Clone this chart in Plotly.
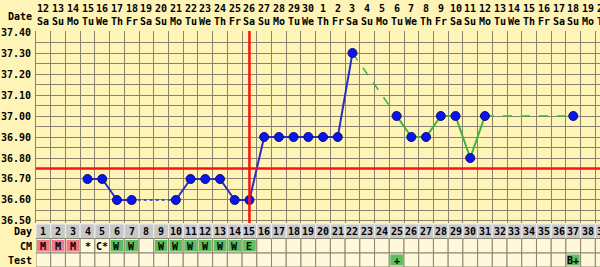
import plotly.graph_objects as go

# ---------------- data ----------------
cycle_days = list(range(1, 40))
dates = list(range(12, 31)) + list(range(1, 21))
weekday_cycle = ["Sa", "Su", "Mo", "Tu", "We", "Th", "Fr"]
weekdays = [weekday_cycle[i % 7] for i in range(len(cycle_days))]

temp_days = [4, 5, 6, 7, 10, 11, 12, 13, 14, 15, 16, 17, 18, 19, 20, 21, 22,
             25, 26, 27, 28, 29, 30, 31, 37]
temps = [36.70, 36.70, 36.60, 36.60, 36.60, 36.70, 36.70, 36.70, 36.60, 36.60,
         36.90, 36.90, 36.90, 36.90, 36.90, 36.90, 37.30,
         37.00, 36.90, 36.90, 37.00, 37.00, 36.80, 37.00, 37.00]

cm_codes = ["M", "M", "M", "*", "C*", "W", "W", "", "W", "W", "W", "W", "W", "W", "E"] + [""] * 24
test_codes = [""] * 24 + ["+"] + [""] * 11 + ["B+"] + [""] * 2

coverline = 36.75
ovulation_day = 15
phase_split_day = 22

y_ticks = [36.50, 36.60, 36.70, 36.80, 36.90, 37.00, 37.10, 37.20, 37.30, 37.40]

# ---------------- style ----------------
W, H = 600, 267
BG = "#FFF4B8"
GRID = "#8A8470"
CELL_BG = "#FFF8DA"
GRAY = "#C8C8C8"
PINK = "#F07A8A"
GREEN = "#5DBE5D"
BLUE_LINE = "#2B2BC8"
BLUE_DOT = "#0A14F0"
GREEN_LINE = "#3CB43C"
FONT = "DejaVu Sans Mono"


def py(p):
    """pixel row -> paper fraction"""
    return 1 - p / H


col_w = 14.72
x_left = 36
x_range = [0.5, 0.5 + (W - x_left) / col_w]
x_dom = [x_left / W, 1]


def day_to_paper(d):
    frac = (d - x_range[0]) / (x_range[1] - x_range[0])
    return x_dom[0] + frac * (x_dom[1] - x_dom[0])


fig = go.Figure()


def add_phase(days, vals, color, dash_gap, width):
    solid_x, solid_y, gap_x, gap_y = [], [], [], []
    for i in range(len(days) - 1):
        seg_x = [days[i], days[i + 1], None]
        seg_y = [vals[i], vals[i + 1], None]
        if days[i + 1] - days[i] == 1:
            solid_x += seg_x
            solid_y += seg_y
        else:
            gap_x += seg_x
            gap_y += seg_y
    fig.add_trace(go.Scatter(x=solid_x, y=solid_y, mode="lines",
                             line=dict(color=color, width=width),
                             hoverinfo="skip", showlegend=False))
    fig.add_trace(go.Scatter(x=gap_x, y=gap_y, mode="lines",
                             line=dict(color=color, width=width - 0.5, dash=dash_gap),
                             hoverinfo="skip", showlegend=False))


pre_d = [d for d in temp_days if d <= phase_split_day]
pre_t = [t for d, t in zip(temp_days, temps) if d <= phase_split_day]
post_d = [d for d in temp_days if d >= phase_split_day]
post_t = [t for d, t in zip(temp_days, temps) if d >= phase_split_day]

add_phase(pre_d, pre_t, BLUE_LINE, "dot", 2)
add_phase(post_d, post_t, GREEN_LINE, "dash", 2)

fig.add_trace(go.Scatter(x=temp_days, y=temps, mode="markers",
                         marker=dict(size=9, color=BLUE_DOT,
                                     line=dict(color="#10106A", width=1)),
                         showlegend=False))

shapes = []
# coverline and ovulation line
shapes.append(dict(type="line", xref="paper", yref="y", x0=x_left / W, x1=1,
                   y0=coverline, y1=coverline, line=dict(color="#FF1010", width=2.5)))
shapes.append(dict(type="line", xref="x", yref="paper", x0=ovulation_day, x1=ovulation_day,
                   y0=py(223), y1=py(31), line=dict(color="#FF1010", width=2.5)))

# table rows
rows = [(224, 238.5), (238.5, 253), (253, 267)]
annotations = []
for i, d in enumerate(cycle_days):
    x0, x1 = d - 0.5, d + 0.5
    shapes.append(dict(type="rect", xref="x", yref="paper", x0=x0, x1=x1,
                       y0=py(rows[0][1]), y1=py(rows[0][0]),
                       fillcolor=GRAY, line=dict(color="#EDEDED", width=1), layer="below"))
    cm = cm_codes[i]
    tc = test_codes[i]
    for (r0, r1), code in ((rows[1], cm), (rows[2], tc)):
        shapes.append(dict(type="rect", xref="x", yref="paper", x0=x0, x1=x1,
                           y0=py(r1), y1=py(r0),
                           fillcolor=CELL_BG, line=dict(color=GRID, width=1), layer="below"))
        fill = PINK if code == "M" else GREEN if code in ("W", "E", "+", "B+") else None
        if fill:
            shapes.append(dict(type="rect", xref="x", yref="paper", x0=x0 + 0.07, x1=x1 - 0.07,
                               y0=py(r1 - 1.5), y1=py(r0 + 1.5),
                               fillcolor=fill, line=dict(width=0), layer="below"))

    def ann(text, yp, size=10):
        if d <= x_range[1]:
            pos = dict(x=d, xref="x")
        else:
            pos = dict(x=day_to_paper(d), xref="paper")
        annotations.append(dict(**pos, y=py(yp), yref="paper", text=text,
                                showarrow=False, xanchor="center", yanchor="middle",
                                font=dict(family=FONT, size=size, color="#000000", weight="bold")))
    ann(str(dates[i]), 9)
    ann(weekdays[i], 22)
    ann(str(d), 231)
    if cm:
        ann(cm, 246)
    if tc:
        ann(tc, 260)

for text, yp in [("Date", 16), ("Day", 231), ("CM", 246), ("Test", 260)]:
    annotations.append(dict(x=34 / W, y=py(yp), xref="paper", yref="paper", text=text,
                            showarrow=False, xanchor="right", yanchor="middle",
                            font=dict(family=FONT, size=10, color="#000000", weight="bold")))

fig.update_layout(
    width=W, height=H,
    margin=dict(l=0, r=0, t=0, b=0),
    paper_bgcolor=BG, plot_bgcolor=BG,
    shapes=shapes, annotations=annotations,
    xaxis=dict(domain=x_dom, range=x_range, tick0=0.5, dtick=1,
               showgrid=True, gridcolor=GRID, gridwidth=1, showticklabels=False,
               zeroline=False, ticks="", automargin=False, fixedrange=True),
    yaxis=dict(domain=[py(223), py(31)], range=[36.50 - 2 / 209, 37.40 + 1 / 209],
               tickvals=y_ticks, ticktext=[f"{v:.2f}" for v in y_ticks],
               showgrid=True, gridcolor=GRID, gridwidth=1,
               minor=dict(dtick=0.05, tick0=36.5, showgrid=True, gridcolor=GRID, gridwidth=1),
               showline=True, linecolor=GRID, linewidth=1,
               zeroline=False, ticks="", ticklabelstandoff=2, automargin=False,
               tickfont=dict(family=FONT, size=10, color="#000000", weight="bold"),
               fixedrange=True),
)

fig.write_html("out.html")
